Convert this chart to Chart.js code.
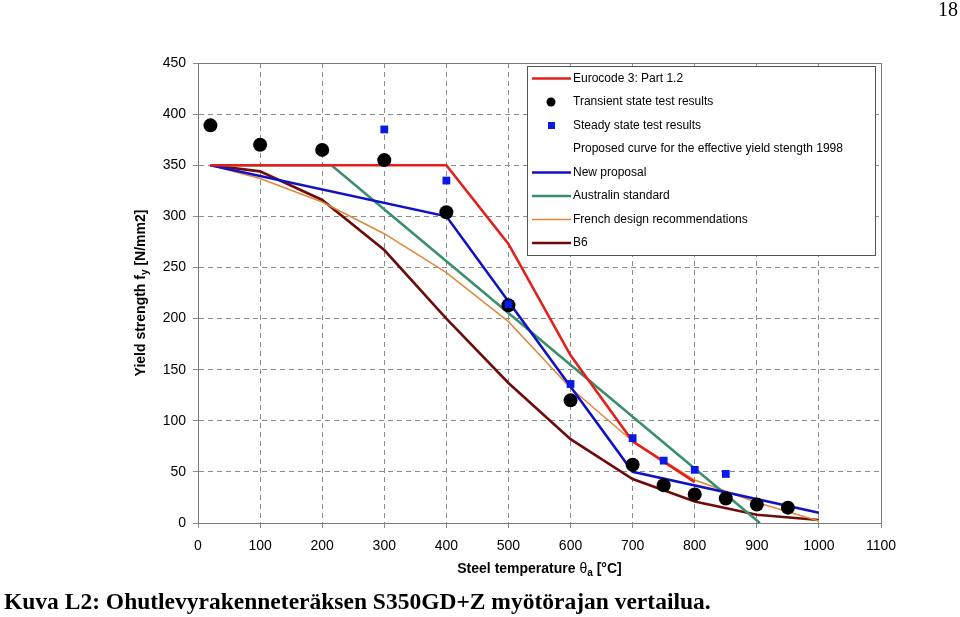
<!DOCTYPE html>
<html><head><meta charset="utf-8">
<script src="https://cdn.jsdelivr.net/npm/chart.js@4/dist/chart.umd.min.js"></script>
<style>
html,body{margin:0;padding:0;background:#fff;width:960px;height:617px;overflow:hidden;}
#wrap{position:absolute;left:0;top:0;width:960px;height:617px;}
#caption{position:absolute;left:4px;top:588px;font:bold 23.5px "Liberation Serif","Times New Roman",serif;white-space:nowrap;color:#000;}
#page{position:absolute;left:938px;top:-2px;font:20px "Liberation Serif","Times New Roman",serif;color:#000;}
</style></head><body>
<div id="wrap"><canvas id="c" width="960" height="617"></canvas></div>
<div id="page">18</div>
<div id="caption">Kuva L2: Ohutlevyrakenneteräksen S350GD+Z myötörajan vertailua.</div>
<script>
// ---- data ----
const transientTemps  = [20, 100, 200, 300, 400, 500, 600, 700, 750, 800, 850, 900, 950];
const transientValues = [389, 370, 365, 355, 304, 213, 120, 57, 37, 28, 24, 18, 15];
const steadyTemps  = [300, 400, 500, 600, 700, 750, 800, 850];
const steadyValues = [385, 335, 214, 136, 83, 61, 52, 48];
const eurocodeTemps  = [20, 400, 500, 600, 700, 800];
const eurocodeValues = [350, 350, 273, 164, 80, 40];
const newProposalTemps  = [20, 400, 700, 1000];
const newProposalValues = [350, 300, 50, 10];
const australianTemps  = [20, 215, 905];
const australianValues = [350, 350, 0];
const frenchTemps  = [20, 100, 200, 300, 400, 500, 600, 700, 800, 900, 1000];
const frenchValues = [350, 337, 314, 283, 245, 197, 132, 80, 42, 20, 2];
const b6Temps  = [20, 100, 200, 300, 400, 500, 600, 700, 800, 900, 1000];
const b6Values = [350, 344, 316, 267, 200, 137, 82, 43, 21, 8, 3];
const xTickLabels = [0, 100, 200, 300, 400, 500, 600, 700, 800, 900, 1000, 1100];
const yTickLabels = [0, 50, 100, 150, 200, 250, 300, 350, 400, 450];
const seriesNames = [
  'Eurocode 3: Part 1.2',
  'Transient state test results',
  'Steady state test results',
  'Proposed curve for the effective yield stength 1998',
  'New proposal',
  'Australin standard',
  'French design recommendations',
  'B6'
];

const xy = (t, v) => t.map((x, i) => ({x: x, y: v[i]}));
const lineDs = (label, t, v, color, w, order) => ({
  label, data: xy(t, v), borderColor: color, backgroundColor: color,
  borderWidth: w, pointRadius: 0, pointHoverRadius: 0, fill: false, tension: 0, order
});

const datasets = [
  lineDs(seriesNames[0], eurocodeTemps, eurocodeValues, '#e3201c', 2.6, 3),
  {label: seriesNames[1], data: xy(transientTemps, transientValues), showLine: false,
   pointStyle: 'circle', pointRadius: 7, pointHoverRadius: 7, pointBackgroundColor: '#000',
   pointBorderColor: '#000', borderColor: '#000', backgroundColor: '#000', borderWidth: 0, order: 1},
  {label: seriesNames[2], data: xy(steadyTemps, steadyValues), showLine: false,
   pointStyle: 'rect', pointRadius: 5.5, pointHoverRadius: 5.5, pointBackgroundColor: '#0a18e8',
   pointBorderColor: '#0a18e8', borderColor: '#0a18e8', backgroundColor: '#0a18e8', borderWidth: 0, order: 0},
  {label: seriesNames[3], data: [], showLine: false, pointRadius: 0, borderWidth: 0, legendNone: true, order: 9},
  lineDs(seriesNames[4], newProposalTemps, newProposalValues, '#1212c4', 2.6, 4),
  lineDs(seriesNames[5], australianTemps, australianValues, '#3a8f6b', 2.6, 5),
  lineDs(seriesNames[6], frenchTemps, frenchValues, '#e0883a', 1.5, 6),
  lineDs(seriesNames[7], b6Temps, b6Values, '#6e0b0b', 2.6, 7)
];

const FONT = '"Liberation Sans", Arial, sans-serif';

const framePlugin = {
  id: 'frame',
  beforeDatasetsDraw(chart) {
    const {ctx, chartArea: a} = chart;
    ctx.save();
    ctx.strokeStyle = '#7a7a7a';
    ctx.lineWidth = 1;
    ctx.strokeRect(Math.round(a.left) + 0.5, Math.round(a.top) + 0.5, Math.round(a.right - a.left), Math.round(a.bottom - a.top));
    ctx.restore();
  }
};

function drawRich(ctx, parts, cx, cy) {
  let total = 0;
  parts.forEach(p => { ctx.font = p.font; p.w = ctx.measureText(p.t).width; total += p.w; });
  let x = cx - total / 2;
  parts.forEach(p => { ctx.font = p.font; ctx.fillText(p.t, x, cy + (p.dy || 0)); x += p.w; });
}

const titlesPlugin = {
  id: 'titles',
  afterDraw(chart) {
    const {ctx, chartArea: a} = chart;
    ctx.save();
    ctx.fillStyle = '#000';
    ctx.textAlign = 'left';
    ctx.textBaseline = 'middle';
    const big = 'bold 14px ' + FONT, small = 'bold 10px ' + FONT;
    drawRich(ctx, [
      {t: 'Steel temperature ', font: big},
      {t: 'θ', font: '14px ' + FONT},
      {t: 'a', font: small, dy: 4},
      {t: ' [°C]', font: big}
    ], (a.left + a.right) / 2, 569);
    ctx.translate(141, (a.top + a.bottom) / 2);
    ctx.rotate(-Math.PI / 2);
    drawRich(ctx, [
      {t: 'Yield strength f', font: big},
      {t: 'y', font: small, dy: 4},
      {t: ' [N/mm2]', font: big}
    ], 0, 0);
    ctx.restore();
  }
};

const legendPlugin = {
  id: 'boxLegend',
  afterDraw(chart) {
    const ctx = chart.ctx;
    const L = 527.5, T = 66.5, R = 875.5, B = 255.5;
    ctx.save();
    ctx.fillStyle = '#fff';
    ctx.fillRect(L, T, R - L, B - T);
    ctx.strokeStyle = '#555';
    ctx.lineWidth = 1;
    ctx.strokeRect(L, T, R - L, B - T);
    ctx.font = '12px ' + FONT;
    ctx.textBaseline = 'middle';
    ctx.textAlign = 'left';
    chart.data.datasets.forEach((ds, i) => {
      const y = 78.5 + i * 23.5;
      if (ds.legendNone) {
      } else if (ds.showLine === false) {
        ctx.fillStyle = ds.pointBackgroundColor;
        if (ds.pointStyle === 'rect') {
          ctx.fillRect(548, y - 3.5, 7, 7);
        } else {
          ctx.beginPath(); ctx.arc(551, y, 4.5, 0, Math.PI * 2); ctx.fill();
        }
      } else {
        ctx.strokeStyle = ds.borderColor;
        ctx.lineWidth = ds.borderWidth;
        ctx.beginPath(); ctx.moveTo(532, y); ctx.lineTo(571, y); ctx.stroke();
      }
      ctx.fillStyle = '#000';
      ctx.fillText(ds.label, 573, y);
    });
    ctx.restore();
  }
};

new Chart(document.getElementById('c'), {
  type: 'line',
  data: {datasets},
  options: {
    responsive: false,
    animation: false,
    devicePixelRatio: 1,
    events: [],
    layout: {padding: {left: 0, top: 63, right: 79, bottom: 0}},
    plugins: {legend: {display: false}, tooltip: {enabled: false}, title: {display: false}},
    scales: {
      x: {
        type: 'linear', min: 0, max: 1100,
        afterFit: s => { s.height = 94; },
        afterBuildTicks: s => { s.ticks = xTickLabels.map(v => ({value: v})); },
        ticks: {color: '#000', font: {family: FONT, size: 14}, padding: 10, maxRotation: 0, autoSkip: false,
                callback: v => String(v)},
        grid: {color: '#8c8c8c', lineWidth: 1, tickLength: 5, drawTicks: true},
        border: {display: true, color: '#7a7a7a', width: 1, dash: [5, 4]}
      },
      y: {
        type: 'linear', min: 0, max: 450,
        afterFit: s => { s.width = 198; },
        afterBuildTicks: s => { s.ticks = yTickLabels.map(v => ({value: v})); },
        ticks: {color: '#000', font: {family: FONT, size: 14}, padding: 7, autoSkip: false,
                callback: v => String(v)},
        grid: {color: '#8c8c8c', lineWidth: 1, tickLength: 5, drawTicks: true},
        border: {display: true, color: '#7a7a7a', width: 1, dash: [5, 4]}
      }
    }
  },
  plugins: [framePlugin, titlesPlugin, legendPlugin]
});
</script>
</body></html>
